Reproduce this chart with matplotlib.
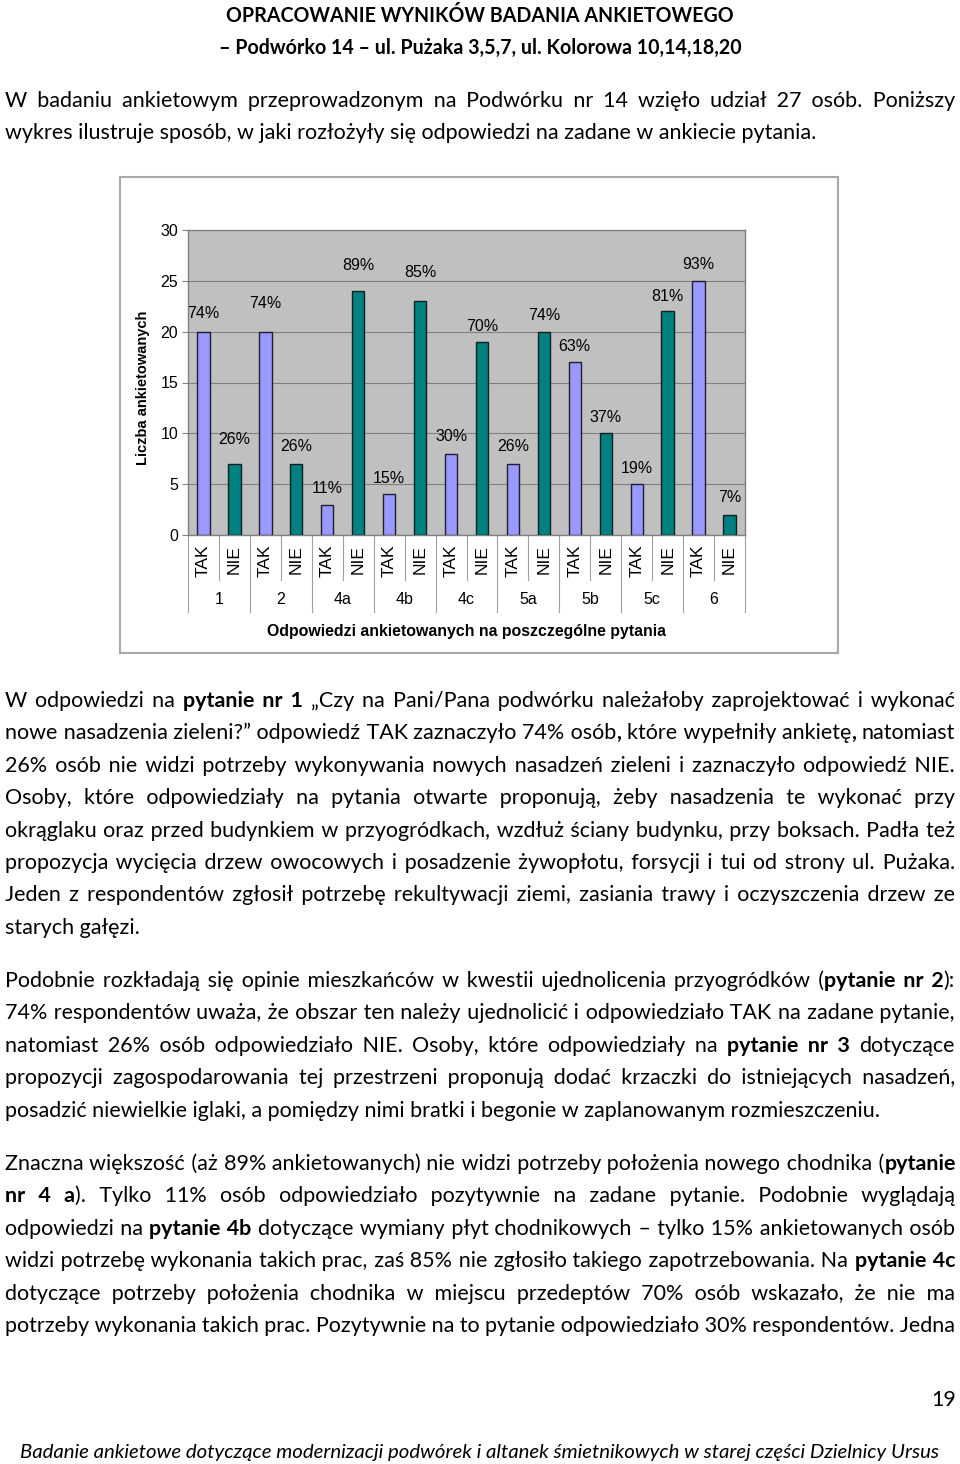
import itertools
import matplotlib
matplotlib.use('Agg')
import matplotlib.pyplot as plt
from matplotlib.font_manager import FontProperties
from matplotlib.patches import Rectangle
from matplotlib.transforms import blended_transform_factory
import numpy as np

# chart data
questions = ['1', '2', '4a', '4b', '4c', '5a', '5b', '5c', '6']
tak = [20, 20, 3, 4, 8, 7, 17, 5, 25]
nie = [7, 7, 24, 23, 19, 20, 10, 22, 2]
tak_pct = ['74%', '74%', '11%', '15%', '30%', '26%', '63%', '19%', '93%']
nie_pct = ['26%', '26%', '89%', '85%', '70%', '74%', '37%', '81%', '7%']
answers = ['TAK', 'NIE']

# page text (** marks bold)
title = ['OPRACOWANIE WYNIKÓW BADANIA ANKIETOWEGO',
         '– Podwórko 14 – ul. Pużaka 3,5,7, ul. Kolorowa 10,14,18,20']
para1 = ['W badaniu ankietowym przeprowadzonym na Podwórku nr 14 wzięło udział 27 osób. Poniższy',
         'wykres ilustruje sposób, w jaki rozłożyły się odpowiedzi na zadane w ankiecie pytania.']
para2 = ['W odpowiedzi na **pytanie nr 1** „Czy na Pani/Pana podwórku należałoby zaprojektować i wykonać',
         'nowe nasadzenia zieleni?” odpowiedź TAK zaznaczyło 74% osób**,** które wypełniły ankietę**,** natomiast',
         '26% osób nie widzi potrzeby wykonywania nowych nasadzeń zieleni i zaznaczyło odpowiedź NIE.',
         'Osoby, które odpowiedziały na pytania otwarte proponują, żeby nasadzenia te wykonać przy',
         'okrąglaku oraz przed budynkiem w przyogródkach, wzdłuż ściany budynku, przy boksach. Padła też',
         'propozycja wycięcia drzew owocowych i posadzenie żywopłotu, forsycji i tui od strony ul. Pużaka.',
         'Jeden z respondentów zgłosił potrzebę rekultywacji ziemi, zasiania trawy i oczyszczenia drzew ze',
         'starych gałęzi.']
para3 = ['Podobnie rozkładają się opinie mieszkańców w kwestii ujednolicenia przyogródków (**pytanie nr 2**):',
         '74% respondentów uważa, że obszar ten należy ujednolicić i odpowiedziało TAK na zadane pytanie,',
         'natomiast 26% osób odpowiedziało NIE. Osoby, które odpowiedziały na **pytanie nr 3** dotyczące',
         'propozycji zagospodarowania tej przestrzeni proponują dodać krzaczki do istniejących nasadzeń,',
         'posadzić niewielkie iglaki, a pomiędzy nimi bratki i begonie w zaplanowanym rozmieszczeniu.']
para4 = ['Znaczna większość (aż 89% ankietowanych) nie widzi potrzeby położenia nowego chodnika (**pytanie**',
         '**nr 4 a**). Tylko 11% osób odpowiedziało pozytywnie na zadane pytanie. Podobnie wyglądają',
         'odpowiedzi na **pytanie 4b** dotyczące wymiany płyt chodnikowych – tylko 15% ankietowanych osób',
         'widzi potrzebę wykonania takich prac, zaś 85% nie zgłosiło takiego zapotrzebowania. Na **pytanie 4c**',
         'dotyczące potrzeby położenia chodnika w miejscu przedeptów 70% osób wskazało, że nie ma',
         'potrzeby wykonania takich prac. Pozytywnie na to pytanie odpowiedziało 30% respondentów. Jedna']
page_no = '19'
footer = 'Badanie ankietowe dotyczące modernizacji podwórek i altanek śmietnikowych w starej części Dzielnicy Ursus'

W, H = 960, 1464
plt.rcParams['font.family'] = ['Liberation Sans', 'DejaVu Sans']
fig = plt.figure(figsize=(W / 100, H / 100), dpi=100)
fig.patch.set_facecolor('white')
renderer = fig.canvas.get_renderer()

def fx(x):
    return x / W

def fy(y):
    return 1 - y / H

def measure(s, prop):
    return renderer.get_text_width_height_descent(s, prop, ismath=False)[0]

def fitted(prop, sample, target):
    # scale a font so that the sample string is target pixels wide
    p = prop.copy()
    p.set_size(10)
    p.set_size(10 * target / measure(sample, p))
    return p

fam = ['Lato', 'DejaVu Sans']
reg = fitted(FontProperties(family=fam), para3[-1], 872)
bold = reg.copy()
bold.set_weight('bold')
fonts = {False: reg, True: bold}
title_prop = fitted(FontProperties(family=fam, weight='bold'), title[0], 508)
foot_prop = fitted(FontProperties(family=fam, style='italic'), footer, 922)

# spaces of several widths, combined to stretch a gap inside one text object
space_chars = [' ', '\u2002', '\u2003', '\u2004', '\u2005', '\u2006', '\u2009', '\u200a']
space_tables = {}
for b, prop in fonts.items():
    adv = {c: measure('a' + c + 'a', prop) - measure('aa', prop) for c in space_chars}
    combos = {}
    for n in range(1, 5):
        for combo in itertools.combinations_with_replacement(space_chars, n):
            combos.setdefault(round(sum(adv[c] for c in combo), 2), ''.join(combo))
    space_tables[b] = (np.array(list(combos.keys())), list(combos.values()))
natural_space = measure('a a', reg) - measure('aa', reg)

def pick_space(b, needed):
    ws, ss = space_tables[b]
    return ss[int(np.argmin(np.abs(ws - needed)))]

def words_of(line):
    words = [[]]
    for k, seg in enumerate(line.split('**')):
        for j, part in enumerate(seg.split(' ')):
            if j > 0:
                words.append([])
            if part:
                words[-1].append((part, k % 2 == 1))
    return [w for w in words if w]

def draw_line(line, base, justify, left=5, right=955):
    words = words_of(line)
    wsum = [sum(measure(p, fonts[b]) for p, b in w) for w in words]
    gap = (right - left - sum(wsum)) / (len(words) - 1) if justify else natural_space
    starts = left + np.concatenate([[0], np.cumsum(np.array(wsum[:-1]) + gap)])
    runs = []  # [x, text, bold]
    for i, w in enumerate(words):
        for j, (p, b) in enumerate(w):
            if j == 0 and runs and runs[-1][2] == b:
                r = runs[-1]
                prop = fonts[b]
                needed = starts[i] - (r[0] + measure(r[1], prop))
                sp = pick_space(b, needed)
                err = r[0] + measure(r[1] + sp + p, prop) - (starts[i] + measure(p, prop))
                sp = pick_space(b, needed - err)
                r[1] += sp + p
            elif j == 0:
                runs.append([starts[i], p, b])
            else:
                r = runs[-1]
                runs.append([r[0] + measure(r[1], fonts[r[2]]), p, b])
    for x0, t, b in runs:
        fig.text(fx(x0), fy(base), t, fontproperties=fonts[b], ha='left', va='baseline')

def draw_paragraph(lines, first_base, last_justified=False, step=32.4):
    for i, line in enumerate(lines):
        last = i == len(lines) - 1
        draw_line(line, first_base + i * step, (not last) or last_justified)

# header
fig.text(0.5, fy(21.5), title[0], fontproperties=title_prop, ha='center', va='baseline')
fig.text(0.5, fy(53.5), title[1], fontproperties=title_prop, ha='center', va='baseline')

draw_paragraph(para1, 107, step=32)
draw_paragraph(para2, 707)
draw_paragraph(para3, 987)
draw_paragraph(para4, 1170, last_justified=True)

fig.text(fx(956), fy(1406), page_no, fontproperties=reg, ha='right', va='baseline')
fig.text(0.5, fy(1458), footer, fontproperties=foot_prop, ha='center', va='baseline')

# chart frame
fig.add_artist(Rectangle((fx(120), fy(653)), 718 / W, 476 / H, transform=fig.transFigure,
                         fill=False, edgecolor='#A8A8A8', lw=1.5))

ax = fig.add_axes([fx(188), fy(535), 557 / W, 305 / H])
ax.set_facecolor('#C0C0C0')

x = np.arange(len(questions))
x_tak = 2 * x
x_nie = 2 * x + 1
width = 0.4
ax.bar(x_tak, tak, width, color='#9999FF', edgecolor='#1E1E2E', lw=1, zorder=3)
ax.bar(x_nie, nie, width, color='#008080', edgecolor='#102020', lw=1, zorder=3)

# data labels, raised a bit where the original pushed them up (pixels)
lift_tak = [2, 12, 0, 0, 1, 1, 0, 0, 0]
lift_nie = [8, 1, 10, 13, -1, 0, 0, -1, 1]
for xs, vals, labels, lifts in [(x_tak, tak, tak_pct, lift_tak), (x_nie, nie, nie_pct, lift_nie)]:
    for xi, v, lab, lift in zip(xs, vals, labels, lifts):
        ax.annotate(lab, (xi, v), xytext=(0, (16 + lift) * 0.72), textcoords='offset points',
                    ha='center', va='center', fontsize=11.5)

ax.set_xlim(-0.5, 2 * len(questions) - 0.5)
ax.set_ylim(0, 30)
ax.set_yticks(range(0, 31, 5))
ax.yaxis.grid(True, color='#808080', lw=0.8, zorder=0)
ax.set_axisbelow(True)
for s in ax.spines.values():
    s.set_color('#808080')
    s.set_linewidth(1)
ax.tick_params(axis='y', length=4, color='#808080', labelsize=11.5, pad=3)

ax.set_xticks(np.concatenate([x_tak, x_nie]))
ax.set_xticklabels(answers[:1] * len(questions) + answers[1:] * len(questions),
                   rotation=90, fontsize=12.5)
ax.tick_params(axis='x', length=0, pad=7)

trans = blended_transform_factory(ax.transData, ax.transAxes)
for xb in np.arange(-0.5, 2 * len(questions), 2):
    ax.plot([xb, xb], [0, -0.252], transform=trans, color='#A0A0A0', lw=0.8, clip_on=False)
for xb in np.arange(0.5, 2 * len(questions), 2):
    ax.plot([xb, xb], [0, -0.148], transform=trans, color='#A0A0A0', lw=0.8, clip_on=False)
for xi, q in zip(x_tak + 0.5, questions):
    ax.text(xi, -0.213, q, transform=trans, ha='center', va='center', fontsize=11.5)

ax.text(0.5, -0.318, 'Odpowiedzi ankietowanych na poszczególne pytania', transform=ax.transAxes,
        ha='center', va='center', fontsize=11.4, fontweight='bold')
fig.text(fx(143), fy(388), 'Liczba ankietowanych', rotation=90, ha='center', va='center',
         fontsize=10.5, fontweight='bold')

fig.savefig('out.png', dpi=100)
